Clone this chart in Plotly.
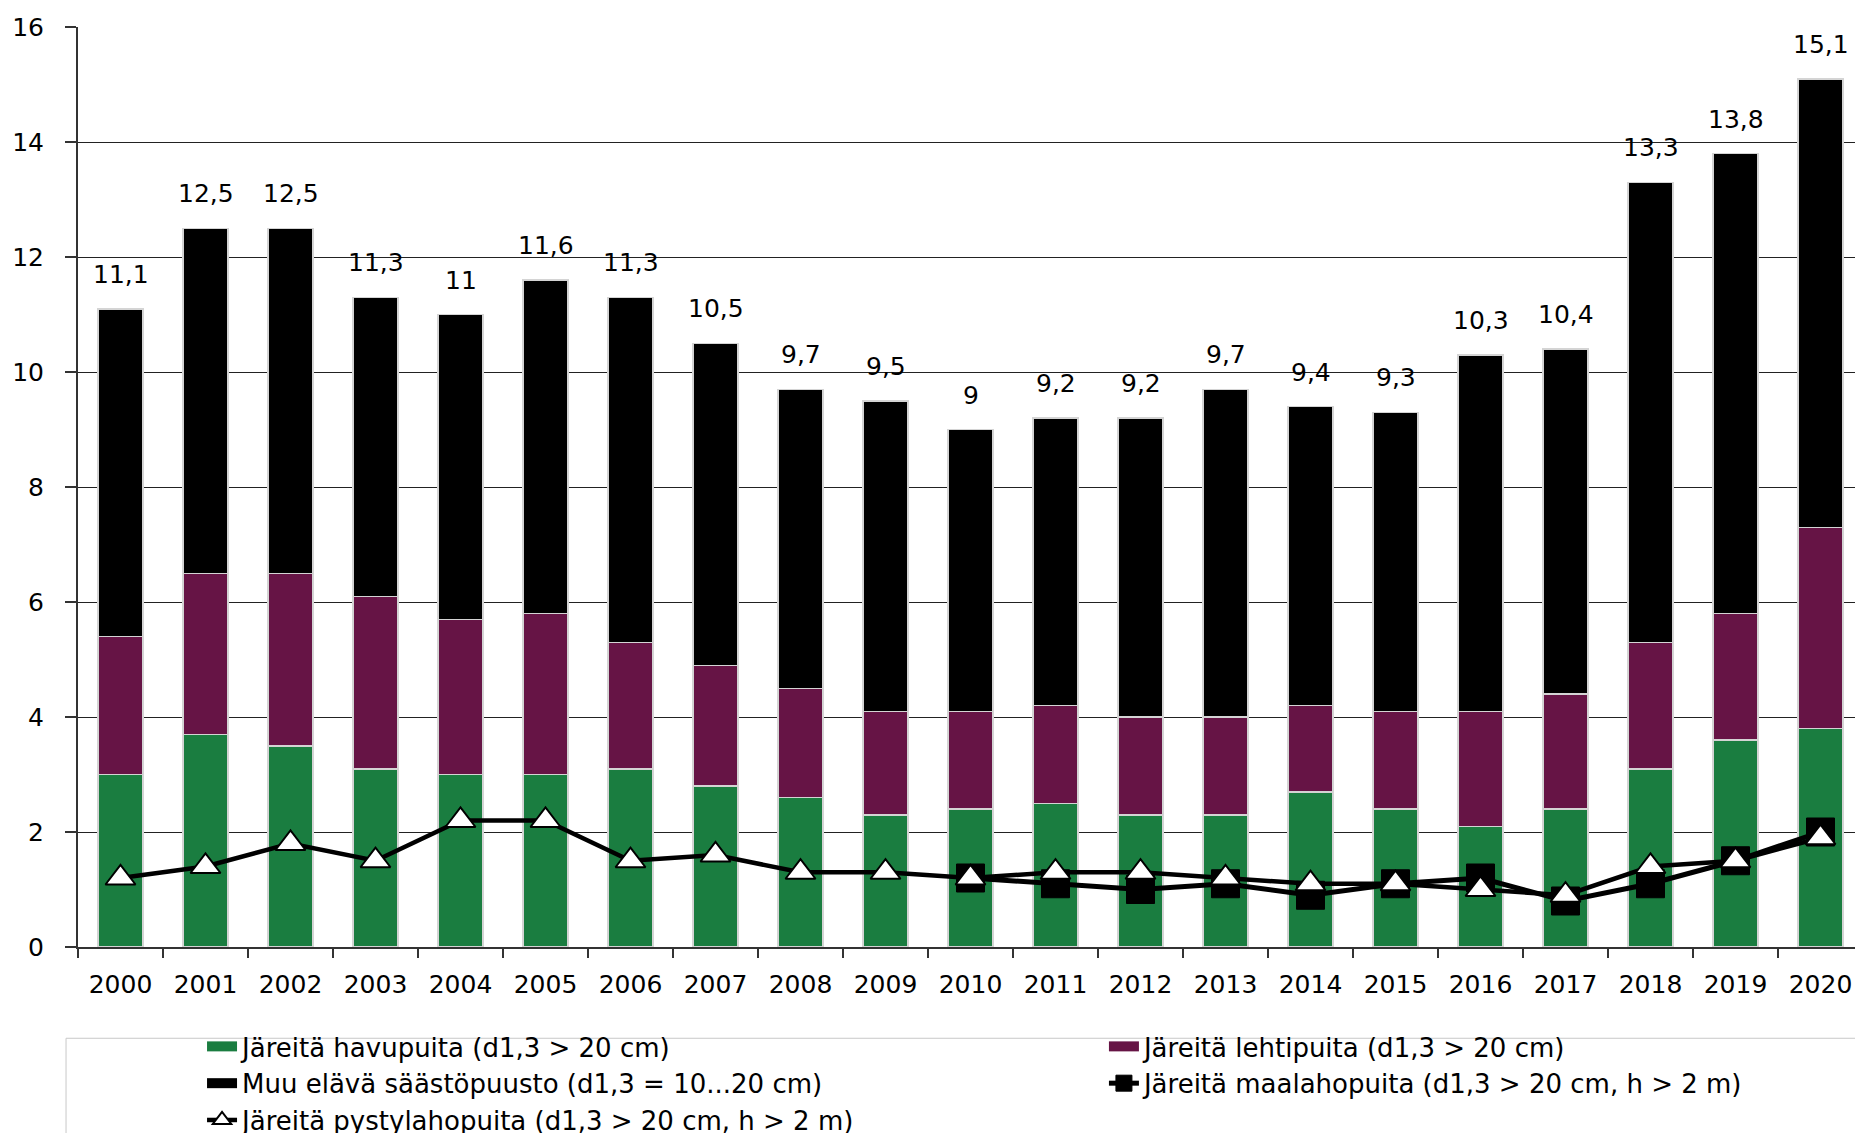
import plotly.graph_objects as go

years = [str(y) for y in range(2000, 2021)]
havupuita = [3.0, 3.7, 3.5, 3.1, 3.0, 3.0, 3.1, 2.8, 2.6, 2.3, 2.4, 2.5, 2.3, 2.3, 2.7, 2.4, 2.1, 2.4, 3.1, 3.6, 3.8]
lehtipuita = [2.4, 2.8, 3.0, 3.0, 2.7, 2.8, 2.2, 2.1, 1.9, 1.8, 1.7, 1.7, 1.7, 1.7, 1.5, 1.7, 2.0, 2.0, 2.2, 2.2, 3.5]
muu_elava = [5.7, 6.0, 6.0, 5.2, 5.3, 5.8, 6.0, 5.6, 5.2, 5.4, 4.9, 5.0, 5.2, 5.7, 5.2, 5.2, 6.2, 6.0, 8.0, 8.0, 7.8]
totals = [11.1, 12.5, 12.5, 11.3, 11.0, 11.6, 11.3, 10.5, 9.7, 9.5, 9.0, 9.2, 9.2, 9.7, 9.4, 9.3, 10.3, 10.4, 13.3, 13.8, 15.1]
maalaho_years = [str(y) for y in range(2010, 2021)]
maalaho = [1.2, 1.1, 1.0, 1.1, 0.9, 1.1, 1.2, 0.8, 1.1, 1.5, 2.0]
pystylaho = [1.2, 1.4, 1.8, 1.5, 2.2, 2.2, 1.5, 1.6, 1.3, 1.3, 1.2, 1.3, 1.3, 1.2, 1.1, 1.1, 1.0, 0.9, 1.4, 1.5, 1.9]

names = [
    "Järeitä havupuita (d1,3 > 20 cm)",
    "Järeitä lehtipuita (d1,3 > 20 cm)",
    "Muu elävä säästöpuusto (d1,3 = 10...20 cm)",
    "Järeitä maalahopuita (d1,3 > 20 cm, h > 2 m)",
    "Järeitä pystylahopuita (d1,3 > 20 cm, h > 2 m)",
]
bar_colors = ["#1a7d40", "#661445", "#000000"]
legend_of = ["legend", "legend2", "legend"]   # column placement of the bar series in the legend box

FONT = "DejaVu Sans"
bar_line = dict(color="#d4d4d4", width=1.5)

fig = go.Figure()
for vals, name, col in zip([havupuita, lehtipuita, muu_elava], names[:3], bar_colors):
    fig.add_trace(go.Bar(x=years, y=vals, name=name, legendgroup=name, showlegend=False,
                         marker=dict(color=col, line=bar_line)))

# legend entries for the bar series (wide rectangular swatches like the original)
for name, col, lg in zip(names[:3], bar_colors, legend_of):
    fig.add_trace(go.Scatter(x=[None], y=[None], name=name, legendgroup=name, mode="lines",
                             line=dict(color=col, width=14), legend=lg))

fig.add_trace(go.Scatter(x=maalaho_years, y=maalaho, name=names[3], mode="lines+markers", legend="legend2",
                         line=dict(color="black", width=5),
                         marker=dict(symbol="square", size=28, color="black", line=dict(color="black", width=1))))
fig.add_trace(go.Scatter(x=years, y=pystylaho, name=names[4], mode="lines+markers", legend="legend",
                         line=dict(color="black", width=4.5),
                         marker=dict(symbol="triangle-up", size=26, color="white", line=dict(color="black", width=2))))

def fmt(v):
    s = f"{v:.1f}"
    if s.endswith(".0"):
        s = s[:-2]
    return s.replace(".", ",")

# total labels; x given as category index so numeric-looking labels are not misread
for i, t in enumerate(totals):
    fig.add_annotation(x=i, y=t, text=fmt(t), showarrow=False, yanchor="bottom", yshift=18,
                       font=dict(family=FONT, size=25, color="black"))

# legend frame
fig.add_shape(type="rect", xref="paper", yref="paper", x0=-0.0067, x1=1.01, y0=-0.4, y1=-0.0992,
              line=dict(color="#c8c8c8", width=1), fillcolor="rgba(0,0,0,0)", layer="below")

leg_common = dict(orientation="v", xref="container", yref="container", xanchor="left",
                  y=0.0978, yanchor="top", traceorder="normal", font=dict(family=FONT, size=26),
                  bgcolor="rgba(0,0,0,0)", itemwidth=30)

fig.update_layout(
    width=1855, height=1125,
    margin=dict(l=70, r=0, t=19, b=186, autoexpand=False),
    barmode="stack", bargap=0.47,
    plot_bgcolor="white", paper_bgcolor="white",
    font=dict(family=FONT, size=25, color="black"),
    showlegend=True,
    legend=dict(x=0.1046, **leg_common),
    legend2=dict(x=0.5908, **leg_common),
    xaxis=dict(type="category", range=[-0.5, 20.5], tickson="boundaries", ticks="outside", ticklen=9,
               tickwidth=1.5, tickcolor="#333", showline=True, linecolor="#333", linewidth=2, showgrid=False,
               ticklabelstandoff=14, tickangle=0, tickfont=dict(family=FONT, size=25)),
    yaxis=dict(range=[0, 16], dtick=2, ticks="outside", ticklen=11, tickwidth=1.5, tickcolor="#333",
               showline=True, linecolor="#333", linewidth=2, showgrid=True, gridcolor="#222", gridwidth=1,
               zeroline=False, ticklabelstandoff=16, tickfont=dict(family=FONT, size=25)),
)

fig.write_html("out.html")
